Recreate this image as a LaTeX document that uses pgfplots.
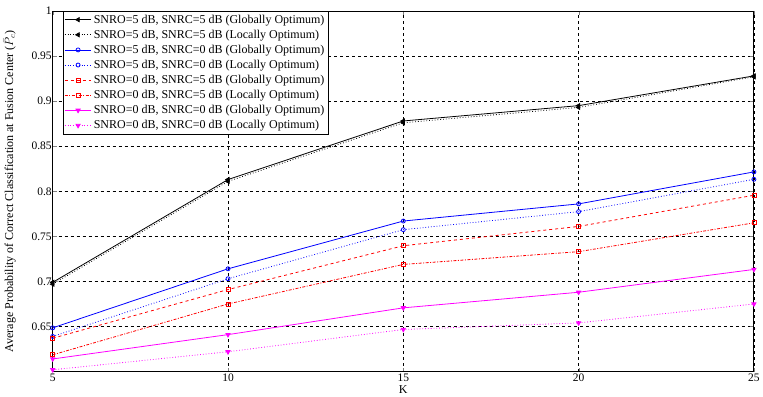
\documentclass[border=0pt]{standalone}
\usepackage{pgfplots}
\pgfplotsset{compat=1.18}
\usepackage{fontspec}
\setmainfont{Liberation Serif}
\definecolor{mag}{rgb}{1,0,1}
\begin{document}
\begin{tikzpicture}
\begin{axis}[
  name=ax,
  scale only axis,
  width=702pt, height=361pt,
  xmin=5, xmax=25, ymin=0.6, ymax=1,
  xtick={5,10,15,20,25},
  ytick={0.65,0.7,0.75,0.8,0.85,0.9,0.95,1},
  yticklabels={0.65,0.7,0.75,0.8,0.85,0.9,0.95,1},
  /pgf/number format/assume math mode=true,
  tick label style={font=\fontsize{11.5}{13}\selectfont},
  yticklabel style={xshift=2.5pt},
  xticklabel style={yshift=1pt},
  tick align=inside,
  major tick length=4pt,
  axis line style={line width=0.9pt},
  grid=major,
  major grid style={black, dashed, line width=0.5pt},
  xlabel={K},
  ylabel={Average Probability of Correct Classification at Fusion Center ($\bar{P}_c$)},
  label style={font=\fontsize{12}{13}\selectfont},
  xlabel style={yshift=3pt},
  ylabel style={yshift=9pt},
  legend style={at={(rel axis cs:0.014,1)}, anchor=north west, draw=black, line width=0.6pt,
    font=\fontsize{12}{14}\selectfont, inner sep=1.5pt, row sep=1.3pt,
    cells={anchor=west}},
  legend cell align=left,
  legend image code/.code={\draw[mark repeat=2,mark phase=2] plot coordinates {(0cm,0cm) (0.47cm,0cm) (0.94cm,0cm)};},
  every axis plot/.append style={line width=0.8pt, mark size=2.4pt},
]
\addplot[black, solid, mark=triangle*, mark options={rotate=90, solid}] coordinates {(5,0.699) (10,0.813) (15,0.878) (20,0.895) (25,0.928)};
\addlegendentry{SNRO=5 dB, SNRC=5 dB (Globally Optimum)}
\addplot[black, dotted, mark=triangle*, mark options={rotate=90, solid}] coordinates {(5,0.697) (10,0.811) (15,0.876) (20,0.893) (25,0.927)};
\addlegendentry{SNRO=5 dB, SNRC=5 dB (Locally Optimum)}
\addplot[blue, solid, mark=o, mark size=2pt, mark options={solid}] coordinates {(5,0.6485) (10,0.714) (15,0.767) (20,0.786) (25,0.8215)};
\addlegendentry{SNRO=5 dB, SNRC=0 dB (Globally Optimum)}
\addplot[blue, dotted, mark=o, mark size=2pt, mark options={solid}] coordinates {(5,0.639) (10,0.703) (15,0.7574) (20,0.7774) (25,0.8133)};
\addlegendentry{SNRO=5 dB, SNRC=0 dB (Locally Optimum)}
\addplot[red, dashed, mark=square, mark size=2pt, mark options={solid}] coordinates {(5,0.637) (10,0.691) (15,0.7396) (20,0.761) (25,0.7956)};
\addlegendentry{SNRO=0 dB, SNRC=5 dB (Globally Optimum)}
\addplot[red, dash pattern=on 3pt off 1.5pt on 1pt off 1.5pt, mark=square, mark size=2pt, mark options={solid}] coordinates {(5,0.6186) (10,0.675) (15,0.7189) (20,0.733) (25,0.765)};
\addlegendentry{SNRO=0 dB, SNRC=5 dB (Locally Optimum)}
\addplot[mag, solid, mark=triangle*, mark options={rotate=180, solid}] coordinates {(5,0.614) (10,0.641) (15,0.6707) (20,0.688) (25,0.7133)};
\addlegendentry{SNRO=0 dB, SNRC=0 dB (Globally Optimum)}
\addplot[mag, dotted, mark=triangle*, mark options={rotate=180, solid}] coordinates {(5,0.602) (10,0.622) (15,0.6467) (20,0.654) (25,0.675)};
\addlegendentry{SNRO=0 dB, SNRC=0 dB (Locally Optimum)}
\end{axis}
\path ([yshift=11pt]ax.north);
\path ([xshift=-7pt]ax.west);
\end{tikzpicture}
\end{document}
